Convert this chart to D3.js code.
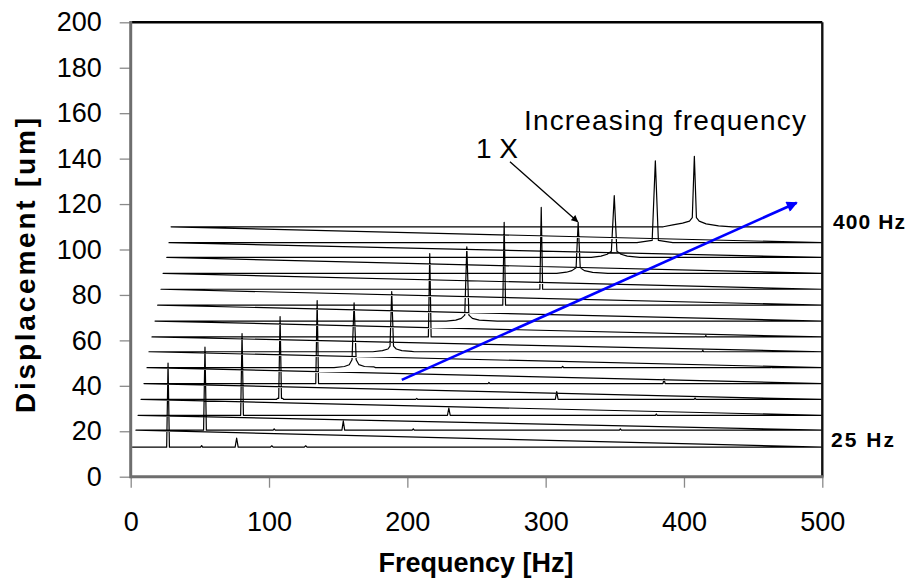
<!DOCTYPE html>
<html>
<head>
<meta charset="utf-8">
<script src="https://cdn.jsdelivr.net/npm/d3@7"></script>
<style>
  body { margin: 0; background: #fff; }
  text { font-family: "Liberation Sans", Arial, sans-serif; }
</style>
</head>
<body>
<div id="chart"></div>
<script>
// waterfall of displacement spectra, 25 Hz .. 400 Hz run-up
var xTicks = [0, 100, 200, 300, 400, 500];
var yTicks = [0, 20, 40, 60, 80, 100, 120, 140, 160, 180, 200];

// vertical offset (um) and left start (Hz) of each trace, bottom to top
var baselines = [13, 20.5, 27, 34, 41, 48, 55, 61.5, 68.5, 75.5, 82.5, 89.5, 96.5, 103, 110];
var startHz = [1, 3.8, 5.3, 7.5, 9.6, 11.8, 13.2, 15.4, 17.6, 19.5, 21.9, 23.4, 26.1, 27.7, 29.2];

// spectrum features of each trace: [Hz, amplitude above its baseline]
var traces = [
  [[26,0],[27,37],[28,0],[50.5,0],[51.3,0.7],[52,0],[75.5,0],[76.6,4],[77.7,0],[101,0],[102,0.6],[103,0],[125.5,0],[126.5,0.6],[127.5,0]],
  [[52.7,0],[53.7,36.5],[54.7,0],[103,0],[103.7,0.6],[104.5,0],[152.7,0],[153.7,4],[154.7,0],[203.5,0],[204.3,0.6],[205,0],[353.3,0],[354,0.6],[354.7,0]],
  [[79.5,0],[80.5,36],[81.5,0],[229,0],[230,3.2],[231,0],[379.3,0],[380,0.6],[380.7,0]],
  [[105.5,0],[106,0.5],[107,0.5],[108,36.5],[109,0.5],[110,0.5],[110.5,0],[206,0],[206.8,0.5],[207.5,0],[307,0],[308,3.5],[309,0],[407.3,0],[408,0.6],[408.7,0]],
  [[133.8,0],[134.8,36.5],[135.8,0],[258.5,0],[259,0.5],[259.5,0],[384.8,0],[385.6,2],[386.4,0]],
  [[147,0],[154.5,0.5],[158,1.3],[160,3.5],[161.5,28.5],[163,3.5],[165,1.3],[169,0.5],[176,0.3],[177,0],[311.5,0],[312.3,0.6],[313,0],[462.5,0],[463,0.6],[463.6,0]],
  [[175,0],[182,0.5],[186,1.2],[187.5,2.5],[188.7,26.5],[190,2.5],[192,1.2],[196,0.5],[203,0.2],[205,0],[413,0],[413.6,0.6],[414.2,0]],
  [[215.2,0],[216.2,36.7],[217.2,0],[415.2,0],[415.8,0.6],[416.4,0]],
  [[228,0],[235,0.4],[239,1.2],[241.5,2.6],[243,32.7],[244.5,2.6],[247,1.2],[252,0.4],[265,0]],
  [[269,0],[270,36.5],[271,0]],
  [[295.8,0],[296.8,36],[297.8,0]],
  [[308,0],[315,0.5],[319,1.2],[322,2.5],[323.5,22.5],[325,2.5],[328,1.2],[334,0.4],[345,0]],
  [[333,0],[340,0.6],[344.5,1.4],[347.5,2.7],[349.6,27.2],[351.5,2.7],[354.5,1.4],[359,0.6],[368,0]],
  [[366,0],[372,0.6],[377,1],[379.3,36],[381.5,1],[386,0.6],[392,0]],
  [[385,0],[392,0.8],[399,1.6],[404,2.5],[406,4],[407.5,31],[409,4],[411,2.5],[416,1.3],[425,0.4],[435,0]]
];

// annotations in data units
var trendArrow = [[196, 42.6], [481.5, 120.6]];
var oneXLeader = [[274.2, 138.6], [323.2, 112.2]];

var svgWidth = 912;
var svgHeight = 588;
var margin = { top: 22.3, right: 89.7, bottom: 111.3, left: 130.7 };
var width = svgWidth - margin.left - margin.right;
var height = svgHeight - margin.top - margin.bottom;

var svg = d3.select("#chart")
  .append("svg")
  .attr("width", svgWidth)
  .attr("height", svgHeight);

var defs = svg.append("defs");
defs.append("marker")
  .attr("id", "blueHead")
  .attr("viewBox", "0 0 10 10")
  .attr("refX", 9).attr("refY", 5)
  .attr("markerUnits", "userSpaceOnUse")
  .attr("markerWidth", 15).attr("markerHeight", 11)
  .attr("orient", "auto")
  .append("path").attr("d", "M0,0L10,5L0,10Z").attr("fill", "#0000ff");
defs.append("marker")
  .attr("id", "blackHead")
  .attr("viewBox", "0 0 10 10")
  .attr("refX", 9).attr("refY", 5)
  .attr("markerUnits", "userSpaceOnUse")
  .attr("markerWidth", 8).attr("markerHeight", 7)
  .attr("orient", "auto")
  .append("path").attr("d", "M0,0L10,5L0,10Z").attr("fill", "#000");

var chartGroup = svg.append("g")
  .attr("transform", `translate(${margin.left}, ${margin.top})`);

var xScale = d3.scaleLinear().domain([0, 500]).range([0, width]);
var yScale = d3.scaleLinear().domain([0, 200]).range([height, 0]);

// axes (ticks and labels only, frame drawn below)
var xAxis = chartGroup.append("g")
  .attr("transform", `translate(0, ${height})`)
  .call(d3.axisBottom(xScale).tickValues(xTicks).tickSize(11).tickPadding(24));
var yAxis = chartGroup.append("g")
  .call(d3.axisLeft(yScale).tickValues(yTicks).tickSize(11).tickPadding(18));

[xAxis, yAxis].forEach(function(ax) {
  ax.select(".domain").remove();
  ax.selectAll("line").attr("stroke", "#8a8a8a").attr("stroke-width", 1.3);
  ax.selectAll("text")
    .attr("font-size", "27px")
    .attr("font-family", "Liberation Sans, Arial, sans-serif")
    .attr("fill", "#000");
});

// build one continuous polyline: each trace left to right, then back to next start
var points = [];
traces.forEach(function(tr, i) {
  points.push([startHz[i], baselines[i]]);
  tr.forEach(function(p) { points.push([p[0], baselines[i] + p[1]]); });
  points.push([500, baselines[i]]);
});

var line = d3.line()
  .x(d => xScale(d[0]))
  .y(d => yScale(d[1]));

chartGroup.append("path")
  .datum(points)
  .attr("d", line)
  .attr("fill", "none")
  .attr("stroke", "#000")
  .attr("stroke-width", 1.2)
  .attr("stroke-linejoin", "round");

// plot frame
chartGroup.append("line")
  .attr("x1", 0).attr("x2", width).attr("y1", 0).attr("y2", 0)
  .attr("stroke", "#000").attr("stroke-width", 2.6);
chartGroup.append("line")
  .attr("x1", width).attr("x2", width).attr("y1", 0).attr("y2", height)
  .attr("stroke", "#111").attr("stroke-width", 2.4);
chartGroup.append("line")
  .attr("x1", 0).attr("x2", 0).attr("y1", -1.3).attr("y2", height + 1.5)
  .attr("stroke", "#6e6e6e").attr("stroke-width", 3);
chartGroup.append("line")
  .attr("x1", 0).attr("x2", width + 1.2).attr("y1", height).attr("y2", height)
  .attr("stroke", "#6e6e6e").attr("stroke-width", 3);

// blue trend arrow
chartGroup.append("path")
  .datum(trendArrow)
  .attr("d", line)
  .attr("stroke", "#0000ff")
  .attr("stroke-width", 2.6)
  .attr("marker-end", "url(#blueHead)");

// 1 X leader
chartGroup.append("path")
  .datum(oneXLeader)
  .attr("d", line)
  .attr("stroke", "#000")
  .attr("stroke-width", 1.3)
  .attr("marker-end", "url(#blackHead)");

// texts
svg.append("text")
  .attr("x", 476).attr("y", 158)
  .attr("font-size", "28px")
  .text("1 X");
svg.append("text")
  .attr("x", 524).attr("y", 130)
  .attr("font-size", "28px")
  .attr("textLength", 282)
  .text("Increasing frequency");
svg.append("text")
  .attr("x", 833).attr("y", 229)
  .attr("font-size", "21px")
  .attr("font-weight", "bold")
  .attr("textLength", 72)
  .text("400 Hz");
svg.append("text")
  .attr("x", 831).attr("y", 447)
  .attr("font-size", "21px")
  .attr("font-weight", "bold")
  .attr("textLength", 63)
  .text("25 Hz");

// axis titles
svg.append("text")
  .attr("x", 476).attr("y", 572)
  .attr("text-anchor", "middle")
  .attr("font-size", "27px")
  .attr("font-weight", "bold")
  .text("Frequency [Hz]");
svg.append("text")
  .attr("transform", "translate(35, 265.5) rotate(-90)")
  .attr("text-anchor", "middle")
  .attr("font-size", "28px")
  .attr("font-weight", "bold")
  .attr("textLength", 295)
  .text("Displacement [um]");
</script>
</body>
</html>
